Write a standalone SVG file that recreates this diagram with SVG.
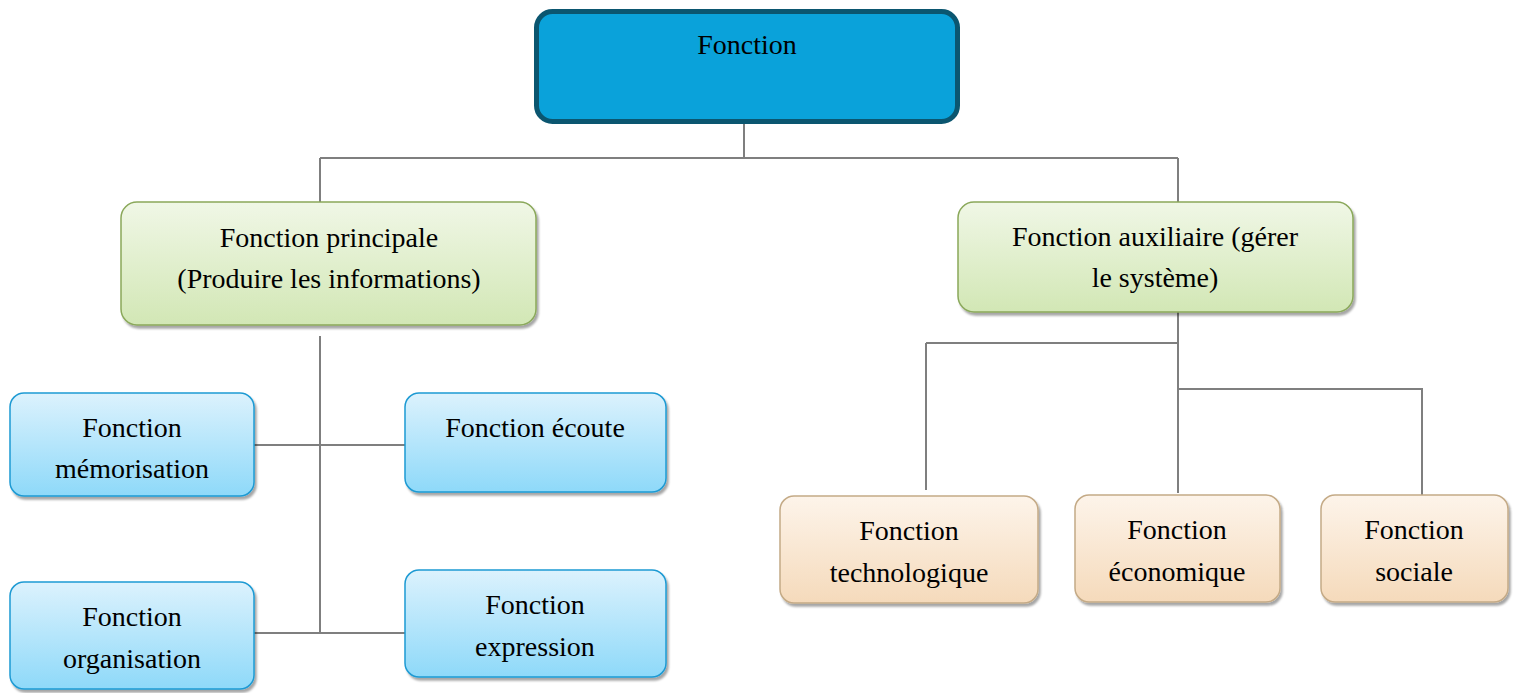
<svg xmlns="http://www.w3.org/2000/svg" width="1515" height="693" viewBox="0 0 1515 693" font-family="Liberation Serif, Times New Roman, DejaVu Serif, serif">
  <defs>
    <linearGradient id="gGreen" x1="0" y1="0" x2="0" y2="1">
      <stop offset="0" stop-color="#f0f7e6"/>
      <stop offset="1" stop-color="#d2e7b5"/>
    </linearGradient>
    <linearGradient id="gBlue" x1="0" y1="0" x2="0" y2="1">
      <stop offset="0" stop-color="#dcf2fd"/>
      <stop offset="1" stop-color="#8ed9f9"/>
    </linearGradient>
    <linearGradient id="gTan" x1="0" y1="0" x2="0" y2="1">
      <stop offset="0" stop-color="#fdf4ea"/>
      <stop offset="1" stop-color="#f5dabb"/>
    </linearGradient>
    <filter id="shadow" x="-10%" y="-10%" width="130%" height="130%">
      <feDropShadow dx="2" dy="3" stdDeviation="1.2" flood-color="#000" flood-opacity="0.35"/>
    </filter>
  </defs>
  <style>
    text { font-size: 28px; fill: #000; text-anchor: middle; }
    .link { fill: none; stroke: #7f7f7f; stroke-width: 2; }
    .root { fill: #0aa2da; stroke: #0b5670; stroke-width: 5; }
    .green { fill: url(#gGreen); stroke: #8aa85a; stroke-width: 1.5; filter: url(#shadow); }
    .blue { fill: url(#gBlue); stroke: #1e9ad3; stroke-width: 1.5; filter: url(#shadow); }
    .tan { fill: url(#gTan); stroke: #c4aa86; stroke-width: 1.5; filter: url(#shadow); }
  </style>
  <rect width="1515" height="693" fill="#ffffff"/>

  <g id="connectors">
    <path class="link" d="M744 122 V158 M320 158 H1178 M320 158 V203 M1178 158 V203"/>
    <path class="link" d="M320 336 V633 M254 445 H405 M254 633 H405"/>
    <path class="link" d="M1178 312 V493 M926 343 H1178 M926 343 V490 M1178 389 H1422 V496"/>
  </g>

  <g id="fonction">
    <rect class="root" x="536.5" y="11.5" width="421" height="110" rx="16"/>
    <text x="747" y="54">Fonction</text>
  </g>

  <g id="principale">
    <rect class="green" x="121" y="202" width="415" height="123" rx="16"/>
    <text x="329" y="247">Fonction principale</text>
    <text x="329" y="288">(Produire les informations)</text>
  </g>

  <g id="auxiliaire">
    <rect class="green" x="958" y="202" width="395" height="110" rx="16"/>
    <text x="1155" y="246">Fonction auxiliaire (gérer</text>
    <text x="1155" y="287">le système)</text>
  </g>

  <g id="memorisation">
    <rect class="blue" x="10" y="393" width="244" height="103" rx="14"/>
    <text x="132" y="437">Fonction</text>
    <text x="132" y="478">mémorisation</text>
  </g>

  <g id="ecoute">
    <rect class="blue" x="405" y="393" width="261" height="99" rx="14"/>
    <text x="535" y="437">Fonction écoute</text>
  </g>

  <g id="organisation">
    <rect class="blue" x="10" y="582" width="244" height="107" rx="14"/>
    <text x="132" y="626">Fonction</text>
    <text x="132" y="668">organisation</text>
  </g>

  <g id="expression">
    <rect class="blue" x="405" y="570" width="261" height="107" rx="14"/>
    <text x="535" y="614">Fonction</text>
    <text x="535" y="656">expression</text>
  </g>

  <g id="technologique">
    <rect class="tan" x="780" y="496" width="258" height="107" rx="14"/>
    <text x="909" y="540">Fonction</text>
    <text x="909" y="582">technologique</text>
  </g>

  <g id="economique">
    <rect class="tan" x="1075" y="495" width="205" height="107" rx="14"/>
    <text x="1177" y="539">Fonction</text>
    <text x="1177" y="581">économique</text>
  </g>

  <g id="sociale">
    <rect class="tan" x="1321" y="495" width="187" height="107" rx="14"/>
    <text x="1414" y="539">Fonction</text>
    <text x="1414" y="581">sociale</text>
  </g>
</svg>
